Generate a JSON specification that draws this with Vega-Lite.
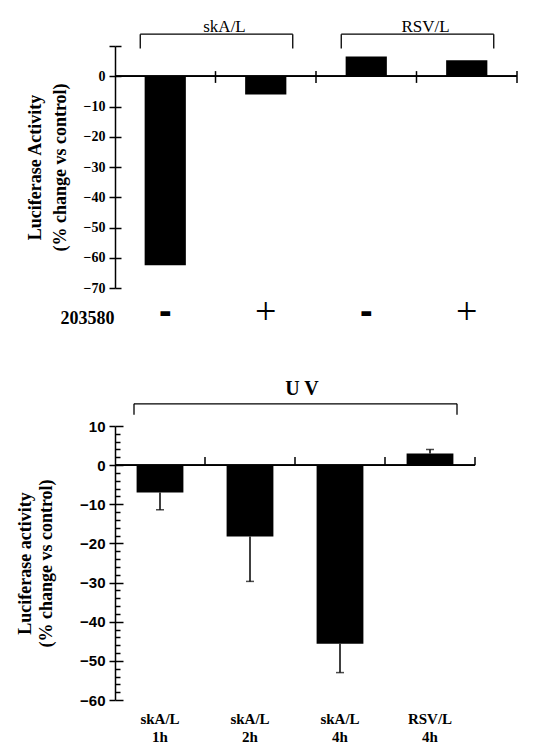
{
  "$schema": "https://vega.github.io/schema/vega-lite/v6.json",
  "background": "white",
  "padding": {"left": 16, "top": 18, "right": 0, "bottom": 0},
  "autosize": {"type": "pad"},
  "bounds": "flush",
  "spacing": 138,
  "datasets": {
    "top": [
      {"cond": "skA/L -", "value": -62.5},
      {"cond": "skA/L +", "value": -6},
      {"cond": "RSV/L -", "value": 6.5},
      {"cond": "RSV/L +", "value": 5.3}
    ],
    "topBrackets": [
      {"group": "skA/L", "from": "skA/L -", "to": "skA/L +"},
      {"group": "RSV/L", "from": "RSV/L -", "to": "RSV/L +"}
    ],
    "bottom": [
      {"cond": "skA/L 1h", "value": -7, "err": -11.4},
      {"cond": "skA/L 2h", "value": -18.2, "err": -29.7},
      {"cond": "skA/L 4h", "value": -45.6, "err": -53},
      {"cond": "RSV/L 4h", "value": 3, "err": 4}
    ],
    "bottomBrackets": [
      {"group": "U V", "from": "skA/L 1h", "to": "RSV/L 4h", "mid": "skA/L 4h"}
    ]
  },
  "config": {
    "view": {"stroke": null},
    "axis": {
      "domainColor": "black", "tickColor": "black", "labelColor": "black", "titleColor": "black",
      "domainWidth": 1.5, "tickWidth": 1.5
    }
  },
  "vconcat": [
    {
      "width": 402,
      "height": 242,
      "layer": [
        {
          "data": {"name": "top"},
          "mark": {"type": "bar", "color": "black", "width": {"band": 0.41}},
          "encoding": {
            "x": {
              "field": "cond", "type": "nominal", "sort": null,
              "scale": {"domain": ["skA/L -", "skA/L +", "RSV/L -", "RSV/L +"], "paddingInner": 0, "paddingOuter": 0},
              "axis": {
                "orient": "bottom", "domain": false, "ticks": false, "labelAngle": 0,
                "labelExpr": "split(datum.label, ' ')[1]",
                "labelFont": {"condition": {"test": "indexof(datum.value, '+') >= 0", "value": "Liberation Serif"}, "value": "Liberation Sans"},
                "labelFontWeight": {"condition": {"test": "indexof(datum.value, '+') >= 0", "value": "normal"}, "value": "bold"},
                "labelFontSize": 38,
                "labelBaseline": "middle",
                "labelPadding": 24,
                "title": "203580",
                "titleFont": "Liberation Serif", "titleFontWeight": "bold", "titleFontSize": 18,
                "titleAnchor": "start", "titleAlign": "right", "titleBaseline": "alphabetic",
                "titleX": -1, "titleY": 35
              }
            },
            "y": {
              "field": "value", "type": "quantitative",
              "scale": {"domain": [-70, 10], "nice": false, "zero": false},
              "axis": {
                "values": [-70, -60, -50, -40, -30, -20, -10, 0, 10],
                "tickCount": 100,
                "format": "d",
                "labelExpr": "datum.value == 10 ? '' : datum.label",
                "labelOverlap": false,
                "labelFont": "Liberation Serif", "labelFontWeight": "bold", "labelFontSize": 14,
                "labelPadding": 4, "tickSize": 6,
                "grid": true, "gridColor": "black", "gridWidth": 1.5, "gridDash": [6, 2000],
                "title": ["Luciferase Activity", "(% change vs control)"],
                "titleFont": "Liberation Serif", "titleFontWeight": "bold", "titleFontSize": 18,
                "titleLineHeight": 25, "titlePadding": 14
              }
            }
          }
        },
        {
          "data": {"name": "top"},
          "mark": {"type": "rule", "color": "black", "strokeWidth": 1.5},
          "encoding": {"y": {"datum": 0, "type": "quantitative"}}
        },
        {
          "data": {"name": "top"},
          "mark": {"type": "rule", "color": "black", "strokeWidth": 1.5},
          "encoding": {
            "x": {"field": "cond", "type": "nominal", "sort": null, "bandPosition": 1},
            "y": {"datum": 1.7, "type": "quantitative"},
            "y2": {"datum": -2.2}
          }
        },
        {
          "data": {"name": "topBrackets"},
          "mark": {"type": "rule", "color": "black", "strokeWidth": 1.3, "xOffset": -25, "x2Offset": 27},
          "encoding": {
            "x": {"field": "from", "type": "nominal", "sort": null},
            "x2": {"field": "to"},
            "y": {"datum": 13.9, "type": "quantitative"}
          }
        },
        {
          "data": {"name": "topBrackets"},
          "mark": {"type": "rule", "color": "black", "strokeWidth": 1.3, "xOffset": -25},
          "encoding": {
            "x": {"field": "from", "type": "nominal", "sort": null},
            "y": {"datum": 13.9, "type": "quantitative"},
            "y2": {"datum": 9.2}
          }
        },
        {
          "data": {"name": "topBrackets"},
          "mark": {"type": "rule", "color": "black", "strokeWidth": 1.3, "xOffset": 27},
          "encoding": {
            "x": {"field": "to", "type": "nominal", "sort": null},
            "y": {"datum": 13.9, "type": "quantitative"},
            "y2": {"datum": 9.2}
          }
        },
        {
          "data": {"name": "topBrackets"},
          "mark": {"type": "text", "font": "Liberation Serif", "fontSize": 17, "color": "black", "align": "center", "baseline": "alphabetic", "dx": 9},
          "encoding": {
            "x": {"field": "to", "type": "nominal", "sort": null, "bandPosition": 0},
            "y": {"datum": 14.6, "type": "quantitative"},
            "text": {"field": "group"}
          }
        }
      ]
    },
    {
      "width": 360,
      "height": 274,
      "layer": [
        {
          "data": {"name": "bottom"},
          "mark": {"type": "bar", "color": "black", "width": {"band": 0.52}},
          "encoding": {
            "x": {
              "field": "cond", "type": "nominal", "sort": null,
              "scale": {"domain": ["skA/L 1h", "skA/L 2h", "skA/L 4h", "RSV/L 4h"], "paddingInner": 0, "paddingOuter": 0},
              "axis": {
                "orient": "bottom", "domain": false, "ticks": false, "labelAngle": 0,
                "labelExpr": "split(datum.label, ' ')",
                "labelFont": "Liberation Serif", "labelFontWeight": "bold", "labelFontSize": 15,
                "labelLineHeight": 18, "labelPadding": 11,
                "title": null
              }
            },
            "y": {
              "field": "value", "type": "quantitative",
              "scale": {"domain": [-60, 10], "nice": false, "zero": false},
              "axis": {
                "values": [-60, -58, -56, -54, -52, -50, -48, -46, -44, -42, -40, -38, -36, -34, -32, -30, -28, -26, -24, -22, -20, -18, -16, -14, -12, -10, -8, -6, -4, -2, 0, 2, 4, 6, 8, 10],
                "tickCount": 100,
                "format": "d",
                "labelExpr": "datum.value % 10 == 0 ? datum.label : ''",
                "labelOverlap": false,
                "labelFont": "Liberation Sans", "labelFontWeight": "bold", "labelFontSize": 15,
                "labelPadding": 4,
                "tickSize": {"condition": {"test": "datum.value % 10 == 0", "value": 6}, "value": 0},
                "grid": true, "gridColor": "black", "gridWidth": 1.5,
                "gridDash": {"condition": {"test": "datum.value % 10 == 0", "value": [8, 2000]}, "value": [5, 2000]},
                "title": ["Luciferase activity", "(% change vs control)"],
                "titleFont": "Liberation Serif", "titleFontWeight": "bold", "titleFontSize": 18,
                "titleLineHeight": 21, "titlePadding": 24
              }
            }
          }
        },
        {
          "data": {"name": "bottom"},
          "mark": {"type": "rule", "color": "black", "strokeWidth": 1.5},
          "encoding": {"y": {"datum": 0, "type": "quantitative"}}
        },
        {
          "data": {"name": "bottom"},
          "mark": {"type": "rule", "color": "black", "strokeWidth": 1.5},
          "encoding": {
            "x": {"field": "cond", "type": "nominal", "sort": null, "bandPosition": 1},
            "y": {"datum": 0, "type": "quantitative"},
            "y2": {"datum": 2.1}
          }
        },
        {
          "data": {"name": "bottom"},
          "mark": {"type": "rule", "color": "black", "strokeWidth": 1.5},
          "encoding": {
            "x": {"field": "cond", "type": "nominal", "sort": null},
            "y": {"field": "value", "type": "quantitative"},
            "y2": {"field": "err"}
          }
        },
        {
          "data": {"name": "bottom"},
          "mark": {"type": "tick", "color": "black", "thickness": 1.5, "size": 8, "orient": "horizontal"},
          "encoding": {
            "x": {"field": "cond", "type": "nominal", "sort": null},
            "y": {"field": "err", "type": "quantitative"}
          }
        },
        {
          "data": {"name": "bottomBrackets"},
          "mark": {"type": "rule", "color": "black", "strokeWidth": 1.3, "xOffset": -26, "x2Offset": 27},
          "encoding": {
            "x": {"field": "from", "type": "nominal", "sort": null},
            "x2": {"field": "to"},
            "y": {"datum": 15.66, "type": "quantitative"}
          }
        },
        {
          "data": {"name": "bottomBrackets"},
          "mark": {"type": "rule", "color": "black", "strokeWidth": 1.3, "xOffset": -26},
          "encoding": {
            "x": {"field": "from", "type": "nominal", "sort": null},
            "y": {"datum": 15.66, "type": "quantitative"},
            "y2": {"datum": 12.85}
          }
        },
        {
          "data": {"name": "bottomBrackets"},
          "mark": {"type": "rule", "color": "black", "strokeWidth": 1.3, "xOffset": 27},
          "encoding": {
            "x": {"field": "to", "type": "nominal", "sort": null},
            "y": {"datum": 15.66, "type": "quantitative"},
            "y2": {"datum": 12.85}
          }
        },
        {
          "data": {"name": "bottomBrackets"},
          "mark": {"type": "text", "font": "Liberation Serif", "fontWeight": "bold", "fontSize": 20, "color": "black", "align": "center", "baseline": "alphabetic", "dx": 7},
          "encoding": {
            "x": {"field": "mid", "type": "nominal", "sort": null, "bandPosition": 0},
            "y": {"datum": 17.9, "type": "quantitative"},
            "text": {"field": "group"}
          }
        }
      ]
    }
  ]
}
